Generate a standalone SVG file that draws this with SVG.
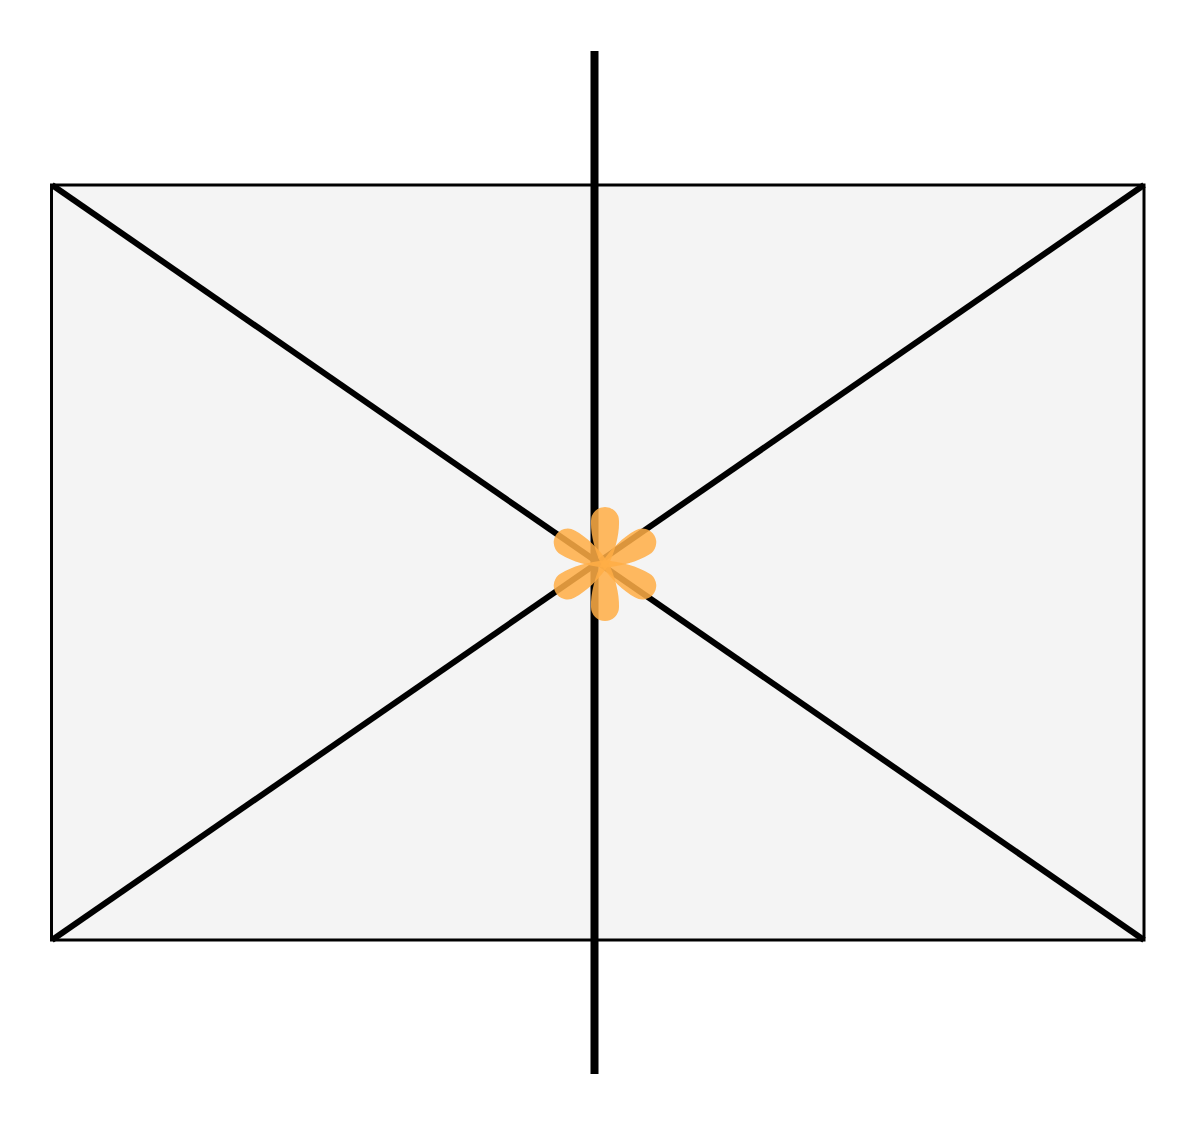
<svg xmlns="http://www.w3.org/2000/svg" width="1200" height="1129" viewBox="0 0 1200 1129">
<style>
.frame{fill:#f4f4f4;stroke:#000;stroke-width:3}
.line{stroke:#000;stroke-width:6;fill:none}
.axis{stroke:#000;stroke-width:8;fill:none}
.petal{fill:#FFAE46;fill-opacity:0.86}
</style>
<defs>
<path id="p" d="M -3 2 C -10 -12, -14.5 -30, -14 -43 A 14 14 0 0 1 14 -43 C 14.5 -30, 10 -12, 3 2 Z"/>
</defs>
<rect width="1200" height="1129" fill="#fff"/>
<g id="frame">
<rect class="frame" x="51.5" y="185" width="1092.5" height="755"/>
</g>
<g id="connectors">
<line class="line" x1="52" y1="185" x2="1144" y2="940"/>
<line class="line" x1="52" y1="940" x2="1144" y2="185"/>
<line class="axis" x1="594.5" y1="51" x2="594.5" y2="1074"/>
</g>
<g id="star" transform="translate(605,564)">
<g class="petal">
<use href="#p"/>
<use href="#p" transform="rotate(60)"/>
<use href="#p" transform="rotate(120)"/>
<use href="#p" transform="rotate(180)"/>
<use href="#p" transform="rotate(240)"/>
<use href="#p" transform="rotate(300)"/>
</g>
</g>
</svg>
